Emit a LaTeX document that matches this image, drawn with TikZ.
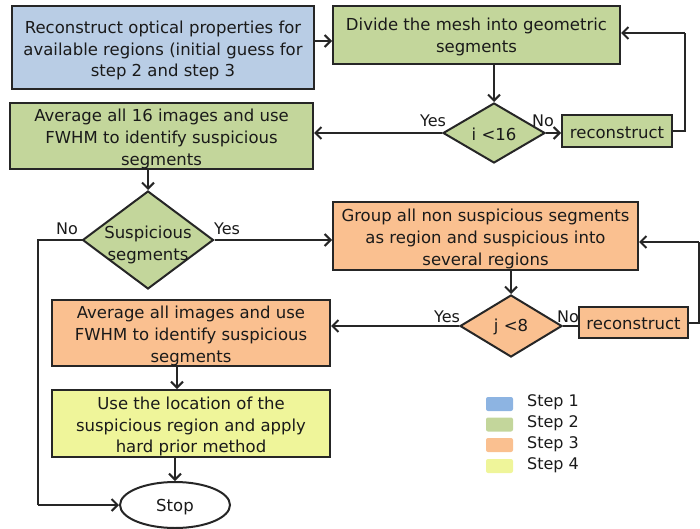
\documentclass[tikz,border=0pt]{standalone}
\usepackage{fontspec}
\setmainfont{DejaVu Sans}
\usetikzlibrary{shapes.geometric,arrows.meta}
\definecolor{cblue}{HTML}{B9CDE5}
\definecolor{cgreen}{HTML}{C3D69B}
\definecolor{corange}{HTML}{FAC090}
\definecolor{cyellow}{HTML}{EFF59A}
\definecolor{lblue}{HTML}{8DB4E2}
\definecolor{ink}{HTML}{262626}
\definecolor{tink}{HTML}{1A1A1A}
\begin{document}
\begin{tikzpicture}[x=1pt,y=-1pt,
  txt/.style={font=\fontsize{16.5}{21.7}\selectfont, text=tink, align=center, inner sep=0pt},
  tdown/.style={txt, yshift=-#1},
  box/.style={draw=ink, line width=2pt, inner sep=0pt},
  dia/.style={diamond, draw=ink, line width=2pt, inner sep=0pt},
  lbl/.style={font=\fontsize{16}{19}\selectfont, text=tink, inner sep=0pt},
  swatch/.style={rounded corners=2pt, inner sep=0pt, minimum width=27pt, minimum height=14pt},
  arr/.style={draw=ink, line width=2pt, -{Straight Barb[length=6pt,width=12pt]}},
  ln/.style={draw=ink, line width=2pt}
]
\useasboundingbox (0,0) rectangle (700,529);

% boxes
\node[box, fill=cblue, minimum width=302pt, minimum height=83pt,
  label={[tdown=3pt]center:Reconstruct optical properties for\\available regions (initial guess for\\step 2 and step 3}] (b1) at (163,47.5) {};
\node[box, fill=cgreen, minimum width=287pt, minimum height=58pt,
  label={[tdown=2pt]center:Divide the mesh into geometric\\segments}] (b2) at (476.5,35) {};
\node[dia, fill=cgreen, minimum width=102pt, minimum height=60pt,
  label={[tdown=1.5pt]center:i <16}] (d1) at (494,133) {};
\node[box, fill=cgreen, minimum width=110pt, minimum height=32pt,
  label={[tdown=1.5pt]center:reconstruct}] (r1) at (617,131) {};
\node[box, fill=cgreen, minimum width=303pt, minimum height=66pt,
  label={[tdown=3pt]center:Average all 16 images and use\\FWHM to identify suspicious\\segments}] (b3) at (161.5,136) {};
\node[dia, fill=cgreen, minimum width=131pt, minimum height=98pt,
  label={[tdown=5pt]center:Suspicious\\segments}] (d2) at (148,240) {};
\node[box, fill=corange, minimum width=305pt, minimum height=68pt,
  label={[tdown=3pt]center:Group all non suspicious segments\\as region and suspicious into\\several regions}] (b4) at (485.5,236) {};
\node[dia, fill=corange, minimum width=102pt, minimum height=62pt,
  label={[tdown=1pt]center:j <8}] (d3) at (511,326) {};
\node[box, fill=corange, minimum width=109pt, minimum height=31pt,
  label={[tdown=1.5pt]center:reconstruct}] (r2) at (633.5,322.5) {};
\node[box, fill=corange, minimum width=278pt, minimum height=66pt,
  label={[tdown=3pt]center:Average all images and use\\FWHM to identify suspicious\\segments}] (b5) at (191,333) {};
\node[box, fill=cyellow, minimum width=278pt, minimum height=67pt,
  label={[tdown=3pt]center:Use the location of the\\suspicious region and apply\\hard prior method}] (b6) at (191,423.5) {};
\node[ellipse, draw=ink, line width=2pt, fill=white, minimum width=110pt, minimum height=46pt, inner sep=0pt,
  label={[tdown=2pt]center:Stop}] (stop) at (175,505) {};

% helper coordinates
\coordinate (y41) at (0,41);
\coordinate (c1) at (685,131);
\coordinate (c2) at (685,33);
\coordinate (c3) at (38,240);
\coordinate (c4) at (38,505);
\coordinate (c5) at (699,323);
\coordinate (c6) at (699,242);
\coordinate (x177) at (177,0);

% connectors
\draw[arr] (b1.east |- y41) -- (b2.west |- y41);
\draw[arr] (d1.north |- b2.south) -- (d1.north);
\draw[arr] (d1.east) -- (r1.west |- d1.east);
\draw[ln] (r1.east |- c1) -- (c1) -- (c2);
\draw[arr] (c2) -- (b2.east |- c2);
\draw[arr] (d1.west) -- (b3.east |- d1.west);
\draw[arr] (d2.north |- b3.south) -- (d2.north);
\draw[ln] (d2.west) -- (c3) -- (c4);
\draw[arr] (c4) -- (stop.west);
\draw[arr] (d2.east) -- (b4.west |- d2.east);
\draw[arr] (d3.north |- b4.south) -- (d3.north);
\draw[ln] (d3.east) -- (r2.west |- d3.east);
\draw[ln] (r2.east |- c5) -- (c5) -- (c6);
\draw[arr] (c6) -- (b4.east |- c6);
\draw[arr] (d3.west) -- (b5.east |- d3.west);
\draw[arr] (x177 |- b5.south) -- (x177 |- b6.north);
\draw[arr] (stop.north |- b6.south) -- (stop.north);

% yes/no labels
\node[lbl] (y1) at (433,121) {Yes};
\node[lbl] (n1) at (543,121) {No};
\node[lbl] (n2) at (67,229) {No};
\node[lbl] (y2) at (227,229) {Yes};
\node[lbl] (y3) at (447,317) {Yes};
\node[lbl] (n3) at (568,317) {No};

% legend
\node[swatch, fill=lblue] (s1) at (499.5,404) {};
\node[swatch, fill=cgreen] (s2) at (499.5,424.5) {};
\node[swatch, fill=corange] (s3) at (499.5,445) {};
\node[swatch, fill=cyellow] (s4) at (499.5,466) {};
\node[lbl, anchor=west] (t1) at (527,402) {Step 1};
\node[lbl, anchor=west] (t2) at (527,423) {Step 2};
\node[lbl, anchor=west] (t3) at (527,444) {Step 3};
\node[lbl, anchor=west] (t4) at (527,465) {Step 4};
\end{tikzpicture}
\end{document}
